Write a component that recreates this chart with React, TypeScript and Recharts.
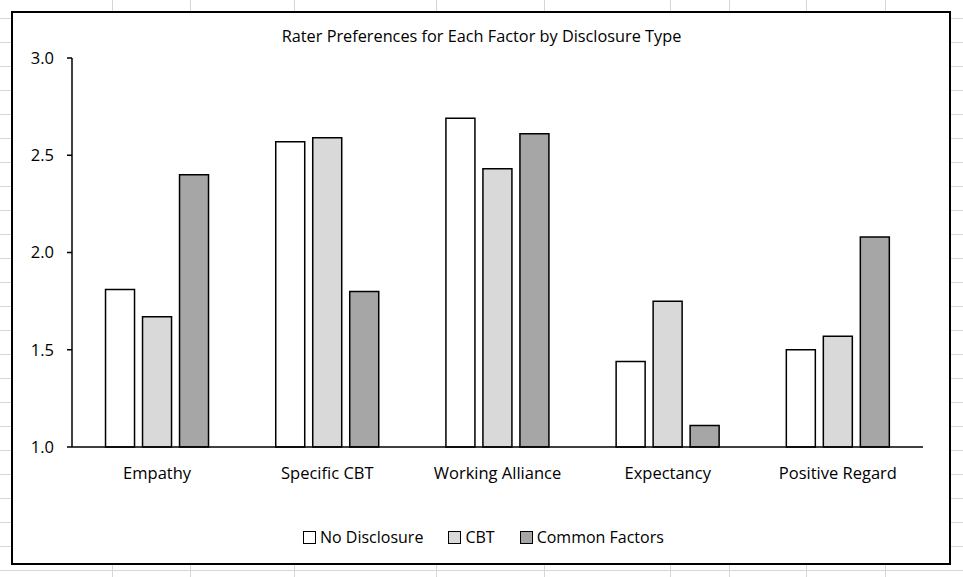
import { BarChart, Bar, XAxis, YAxis, Legend } from 'recharts';

const categories = ['Empathy', 'Specific CBT', 'Working Alliance', 'Expectancy', 'Positive Regard'];
const noDisclosure = [1.81, 2.57, 2.69, 1.44, 1.5];
const cbt = [1.67, 2.59, 2.43, 1.75, 1.57];
const commonFactors = [2.4, 1.8, 2.61, 1.11, 2.08];
const yTicks = [1.0, 1.5, 2.0, 2.5, 3.0];

const seriesInfo = [
  { key: 'noDisclosure', name: 'No Disclosure', fill: '#ffffff' },
  { key: 'cbt', name: 'CBT', fill: '#d9d9d9' },
  { key: 'commonFactors', name: 'Common Factors', fill: '#a6a6a6' },
];

// spreadsheet column lines behind the chart
const sheetCols = [112, 190, 294, 436, 544, 670, 729, 806, 885];

const data = categories.map((c, i) => ({
  category: c,
  noDisclosure: noDisclosure[i],
  cbt: cbt[i],
  commonFactors: commonFactors[i],
}));

const font = '"Open Sans", sans-serif';

function LegendBox() {
  return (
    <div style={{ display: 'flex', alignItems: 'center', fontFamily: font, fontSize: 16, color: '#000', whiteSpace: 'nowrap' }}>
      {seriesInfo.map((s, i) => (
        <div key={s.key} style={{ display: 'flex', alignItems: 'center', marginRight: i < seriesInfo.length - 1 ? 25 : 0 }}>
          <span style={{ width: 11, height: 11, border: '1.3px solid #000', background: s.fill, marginRight: 4, display: 'inline-block' }} />
          <span>{s.name}</span>
        </div>
      ))}
    </div>
  );
}

export default function App() {
  return (
    <div style={{ position: 'absolute', left: 0, top: 0, width: 963, height: 577, overflow: 'hidden', background: '#fff' }}>
      <div
        style={{
          position: 'absolute', inset: 0,
          background: 'repeating-linear-gradient(to bottom, transparent 0px, transparent 18px, #d6d6d6 18px, #d6d6d6 19px, transparent 19px, transparent 24px)',
        }}
      />
      {sheetCols.map((x) => (
        <div key={x} style={{ position: 'absolute', left: x, top: 0, width: 1, height: 577, background: '#d6d6d6' }} />
      ))}
      <div style={{ position: 'absolute', left: 11, top: 11, width: 936, height: 550, border: '2px solid #000', background: '#fff' }} />
      <div style={{ position: 'absolute', left: 0, top: 25, width: 963, textAlign: 'center', fontFamily: font, fontSize: 16.3, color: '#000' }}>
        Rater Preferences for Each Factor by Disclosure Type
      </div>
      <div style={{ position: 'absolute', left: 0, top: 0 }}>
        <BarChart
          width={963}
          height={577}
          data={data}
          margin={{ top: 58, right: 40, left: 0, bottom: 100 }}
          barCategoryGap="19.7%"
          barGap={8}
        >
          <XAxis
            dataKey="category"
            axisLine={{ stroke: '#000', strokeWidth: 1.5 }}
            tickLine={false}
            tickSize={0}
            tickMargin={20}
            height={30}
            interval={0}
            tick={{ fill: '#000', fontSize: 16.5, fontFamily: font }}
          />
          <YAxis
            domain={[1, 3]}
            ticks={yTicks}
            width={72}
            axisLine={{ stroke: '#000', strokeWidth: 1.5 }}
            tickLine={{ stroke: '#000', strokeWidth: 1.5 }}
            tickSize={5}
            tickMargin={13}
            tickFormatter={(v: number) => v.toFixed(1)}
            tick={{ fill: '#000', fontSize: 16.5, fontFamily: font }}
          />
          <Legend
            verticalAlign="middle"
            layout="horizontal"
            content={() => <LegendBox />}
            wrapperStyle={{ position: 'absolute', left: 303, top: 526, width: 'auto' }}
          />
          {seriesInfo.map((s) => (
            <Bar key={s.key} dataKey={s.key} name={s.name} fill={s.fill} stroke="#000" strokeWidth={1.5} isAnimationActive={false} />
          ))}
        </BarChart>
      </div>
    </div>
  );
}
